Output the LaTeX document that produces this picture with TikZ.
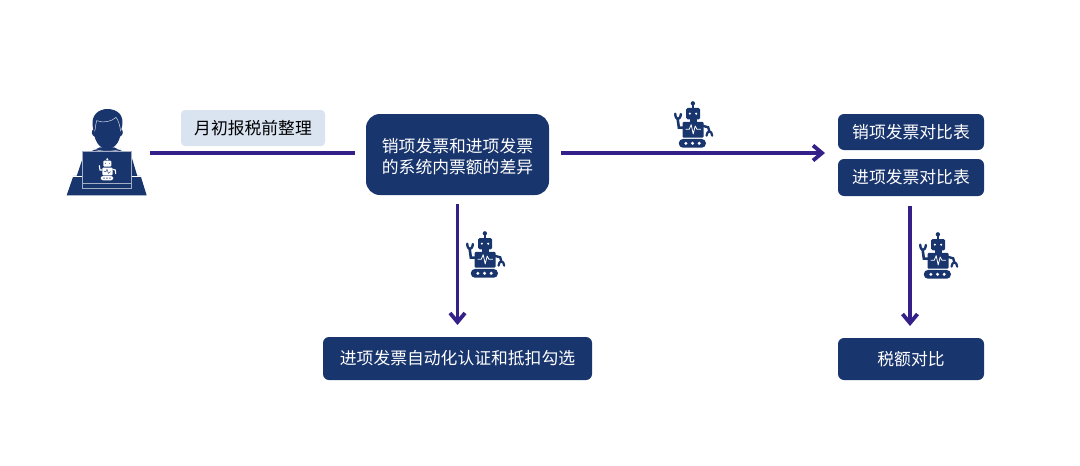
\documentclass[tikz,border=0pt]{standalone}
\usepackage{fontspec}
\setmainfont{Noto Sans CJK SC}
\usetikzlibrary{arrows.meta}
\definecolor{navy}{HTML}{19356D}
\definecolor{pale}{HTML}{DAE3F0}
\definecolor{linec}{HTML}{35208A}
\tikzset{
  x=1pt,y=-1pt,
  darkbox/.style={fill=navy,draw=none,text=white,align=center,inner sep=0pt,font=\fontsize{16.8}{21}\selectfont},
  lightbox/.style={fill=pale,draw=none,text=black,rounded corners=4pt,inner sep=0pt,font=\fontsize{16.8}{21}\selectfont},
  flow/.style={draw=linec,line width=3.2pt},
  flowarrow/.style={flow,-{Straight Barb[length=9pt,width=15pt,line width=3.8pt]}},
  pics/robot/.style={code={
    \begin{scope}[shift={(-33.3,-35)},x=0.3333pt,y=-0.3333pt]
      \fill[navy] (98,40) circle (6.5);
      \fill[navy] (95,42) rectangle (101,58);
      \fill[navy,rounded corners=1.5pt] (78,54) rectangle (120,88);
      \fill[white] (89,71) circle (3.5) (108,71) circle (3.5);
      \fill[navy] (88,86) rectangle (110,99);
      \fill[navy,rounded corners=1pt] (67,96) rectangle (130,143);
      \draw[white,line width=0.8pt,line join=round] (76,118) -- (87,118) -- (93,104) -- (99,132) -- (105,108) -- (110,118) -- (122,118);
      \draw[navy,line width=2.6pt] (70,113) -- (56,113) -- (52,84);
      \draw[navy,line width=2.4pt,line cap=round] (45,71) .. controls (46,92) and (60,92) .. (62,72);
      \draw[navy,line width=2.4pt] (126,107) -- (144,112) -- (148,126);
      \draw[navy,line width=2.2pt,line cap=round] (139,137) .. controls (140,120) and (155,120) .. (156,137);
      \fill[navy,rounded corners=4pt] (56,147) rectangle (137,173);
      \fill[white] (77,160) circle (5) (97,160) circle (5) (117,160) circle (5);
    \end{scope}
  }},
}
\begin{document}
\begin{tikzpicture}
\useasboundingbox (0,0) rectangle (1080,466);
% person
\begin{scope}[shift={(50,90)},x=0.3333pt,y=-0.3333pt]
  \fill[navy] (50,316) -- (290,316) -- (272,258) -- (70,258) -- cycle;
  \draw[white,line width=0.6pt] (70,258) -- (272,258);
  \fill[navy] (80,258) -- (98,205) .. controls (106,188) and (125,184) .. (150,172) -- (192,172) .. controls (215,184) and (238,188) .. (246,205) -- (262,258) -- cycle;
  % head
  \fill[navy] (130,118) .. controls (118,72) and (150,57) .. (172,57) .. controls (198,57) and (228,72) .. (214,118) .. controls (221,122) and (220,136) .. (210,140) .. controls (205,165) and (185,178) .. (172,178) .. controls (158,178) and (140,165) .. (134,140) .. controls (124,136) and (123,122) .. (130,118) -- cycle;
  \draw[white!80!navy,line width=0.5pt] (134,124) .. controls (138,110) and (136,100) .. (140,92) .. controls (160,100) and (185,95) .. (198,82) .. controls (206,92) and (210,108) .. (212,124);
  \draw[white!80!navy,line width=0.5pt] (130,176) .. controls (145,186) and (198,186) .. (214,176);
  % laptop
  \fill[navy] (97,185) rectangle (245,295);
  \draw[white!60!navy,line width=0.6pt] (97,185) -- (245,185) -- (245,295) -- (97,295) -- cycle;
  \draw[white!60!navy,line width=0.6pt] (97,281) -- (245,281);
  % white robot
  \fill[white] (172,208) circle (3.5);
  \fill[white,rounded corners=1pt] (160,212) rectangle (184,230);
  \fill[white,rounded corners=1pt] (157,233) rectangle (188,256);
  \draw[white,line width=1.1pt] (157,240) -- (150,240) -- (148,226);
  \draw[white,line width=1.1pt] (188,238) -- (196,240) -- (197,252);
  \fill[white,rounded corners=2.5pt] (152,258) rectangle (190,271);
  \fill[navy] (162,264.5) circle (2) (171,264.5) circle (2) (180,264.5) circle (2);
  \fill[navy] (166,220) circle (1.5) (178,220) circle (1.5);
  \draw[navy,line width=.4pt] (162,245) -- (168,245) -- (171,238) -- (175,250) -- (182,245);
\end{scope}
% boxes
\node[lightbox,minimum width=144pt,minimum height=36pt] (pre) at (253,128) {月初报税前整理};
\node[darkbox,rounded corners=14pt,minimum width=183pt,minimum height=81pt] (main) at (457.5,154.5) {\rule{0pt}{18pt}销项发票和进项发票\\的系统内票额的差异};
\node[darkbox,rounded corners=6pt,minimum width=146pt,minimum height=36pt] (sales) at (911,132) {销项发票对比表};
\node[darkbox,rounded corners=6pt,minimum width=146pt,minimum height=37pt] (purch) at (911,177.5) {进项发票对比表};
\node[darkbox,rounded corners=6pt,minimum width=269pt,minimum height=43pt] (auth) at (457.5,358.5) {进项发票自动化认证和抵扣勾选};
\node[darkbox,rounded corners=6pt,minimum width=146pt,minimum height=42pt] (tax) at (911,359) {税额对比};
% free ends
\coordinate (p1) at (150,153);
\coordinate (p2) at (355,153);
\coordinate (m1) at (561,153);
\coordinate (t1) at (825,153);
\coordinate (d1) at (457.5,204);
\coordinate (d2) at (457.5,325);
\coordinate (e1) at (910,206);
\coordinate (e2) at (910,326);
\draw[flow] (p1) -- (p2);
\draw[flowarrow] (m1) -- (t1);
\draw[flowarrow] (d1) -- (d2);
\draw[flowarrow] (e1) -- (e2);
% robots
\pic at (693.5,125) {robot};
\pic at (485.5,255) {robot};
\pic at (938.5,256) {robot};
\end{tikzpicture}
\end{document}
